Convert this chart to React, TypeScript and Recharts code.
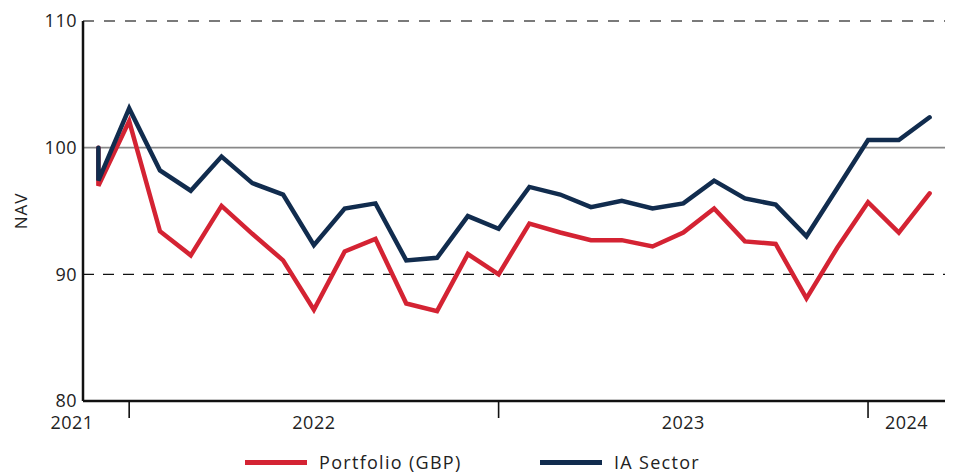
import React from 'react'
import {
  Legend,
  Line,
  LineChart,
  ReferenceLine,
  XAxis,
  YAxis,
} from 'recharts'

// month index of each observation (the first month has an opening value of 100 and a month-end value)
const monthIndex = [0, 0, 1, 2, 3, 4, 5, 6, 7, 8, 9, 10, 11, 12, 13, 14, 15, 16, 17, 18, 19, 20, 21, 22, 23, 24, 25, 26, 27]
const portfolio = [100, 97.0, 102.1, 93.4, 91.5, 95.4, 93.2, 91.1, 87.2, 91.8, 92.8, 87.7, 87.1, 91.6, 90.0, 94.0, 93.3, 92.7, 92.7, 92.2, 93.3, 95.2, 92.6, 92.4, 88.1, 92.1, 95.7, 93.3, 96.4]
const iaSector = [100, 97.4, 103.1, 98.2, 96.6, 99.3, 97.2, 96.3, 92.3, 95.2, 95.6, 91.1, 91.3, 94.6, 93.6, 96.9, 96.3, 95.3, 95.8, 95.2, 95.6, 97.4, 96.0, 95.5, 93.0, 96.8, 100.6, 100.6, 102.4]

const yearLabels = ['2021', '2022', '2023', '2024']
const yearLabelAt = [-0.5, 7, 19, 26.25]
const yearBreaks = [1, 13, 25]
const yTicks = [80, 90, 100, 110]

const RED = '#d42333'
const NAVY = '#112c4e'
const FONT = '"Open Sans", sans-serif'

const data = monthIndex.map((m, i) => ({
  m,
  portfolio: portfolio[i],
  ia: iaSector[i],
}))

const XTick = (props: any) => {
  const { x, y, payload } = props
  const v = payload.value
  if (yearBreaks.includes(v)) {
    return <line x1={x} x2={x} y1={y + 1} y2={y + 17} stroke="#111" strokeWidth={1.6} />
  }
  const idx = yearLabelAt.indexOf(v)
  return (
    <text
      x={idx === 0 ? x - 11 : x}
      y={y + 28}
      textAnchor="middle"
      fontSize={18}
      fill="#222"
      fontFamily={FONT}
      letterSpacing={0.5}
    >
      {yearLabels[idx]}
    </text>
  )
}

const LegendBox = () => (
  <div style={{ position: 'relative', height: 40, fontFamily: FONT, fontSize: 18, color: '#222', letterSpacing: 1.3 }}>
    <div style={{ position: 'absolute', left: 245, top: 18, display: 'flex', alignItems: 'center', height: 22 }}>
      <span style={{ width: 62, height: 5, background: RED, display: 'inline-block', marginRight: 12 }} />
      <span>Portfolio (GBP)</span>
    </div>
    <div style={{ position: 'absolute', left: 540, top: 18, display: 'flex', alignItems: 'center', height: 22 }}>
      <span style={{ width: 62, height: 5, background: NAVY, display: 'inline-block', marginRight: 12 }} />
      <span>IA Sector</span>
    </div>
  </div>
)

const App = () => {
  return (
    <div style={{ position: 'absolute', left: 0, top: 0, background: '#fff' }}>
      <LineChart width={953} height={473} data={data} margin={{ top: 21, right: 8, bottom: 0, left: 0 }}>
        <XAxis
          dataKey="m"
          type="number"
          domain={[-0.5, 27.5]}
          ticks={[...yearLabelAt, ...yearBreaks]}
          interval={0}
          tick={<XTick />}
          tickLine={false}
          tickSize={0}
          tickMargin={0}
          height={32}
          axisLine={{ stroke: '#111', strokeWidth: 2.5 }}
        />
        <YAxis
          domain={[80, 110]}
          ticks={yTicks}
          width={83}
          tickLine={false}
          tickSize={0}
          tickMargin={6}
          tick={{ fontSize: 18, fill: '#222', fontFamily: FONT, letterSpacing: 0.5 }}
          axisLine={{ stroke: '#111', strokeWidth: 2.5 }}
          label={(p: any) => {
            const vb = p.viewBox
            const cy = vb.y + vb.height / 2
            return (
              <text
                x={20}
                y={cy}
                transform={`rotate(-90 20 ${cy})`}
                textAnchor="middle"
                dominantBaseline="central"
                fontSize={17}
                fill="#222"
                fontFamily={FONT}
                letterSpacing={1}
              >
                NAV
              </text>
            )
          }}
        />
        <ReferenceLine y={110} stroke="#7a7a7a" strokeDasharray="11 10" strokeWidth={2} />
        <ReferenceLine y={100} stroke="#888" strokeWidth={1.6} />
        <ReferenceLine y={90} stroke="#111" strokeDasharray="11 9" strokeWidth={1.2} />
        <Legend verticalAlign="bottom" height={40} wrapperStyle={{ left: 0, width: 953 }} content={<LegendBox />} />
        <Line
          type="linear"
          dataKey="portfolio"
          stroke={RED}
          strokeWidth={4.5}
          strokeLinecap="round"
          dot={false}
          isAnimationActive={false}
        />
        <Line
          type="linear"
          dataKey="ia"
          stroke={NAVY}
          strokeWidth={4.5}
          strokeLinecap="round"
          dot={false}
          isAnimationActive={false}
        />
      </LineChart>
    </div>
  )
}

export default App
